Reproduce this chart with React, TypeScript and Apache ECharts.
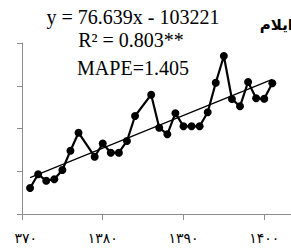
import React, { useEffect, useRef } from "react";
import * as echarts from "echarts";

const years = [1371, 1372, 1373, 1374, 1375, 1376, 1377, 1379, 1380, 1381, 1382, 1383, 1384, 1386, 1387, 1388, 1389, 1390, 1391, 1392, 1393, 1394, 1395, 1396, 1397, 1398, 1399, 1400, 1401];
const values = [1608, 1929, 1779, 1812, 2029, 2481, 2902, 2340, 2649, 2434, 2434, 2708, 3292, 3791, 3019, 2864, 3358, 3051, 3051, 3051, 3381, 4071, 4696, 3690, 3519, 4088, 3706, 3697, 4057];
const tickValues = [1370, 1380, 1390, 1400, 1410];
const tickLabels = ["۱۳۷۰", "۱۳۸۰", "۱۳۹۰", "۱۴۰۰", "۱۴۱۰"];
const slope = 76.639;
const intercept = -103221;
const equationLines = ["y = 76.639x - 103221", "R² = 0.803**", "MAPE=1.405"];
const title = "ایلام";

export default function App() {
  const ref = useRef<HTMLDivElement>(null);
  useEffect(() => {
    if (!ref.current) return;
    const chart = echarts.init(ref.current, null, { renderer: "svg" });
    const x0 = years[0];
    const x1 = years[years.length - 1];
    const trend = [
      [x0, slope * x0 + intercept],
      [x1, slope * x1 + intercept],
    ];
    const axisColor = "#8c8c8c";
    const textStyle = (t: string, size: number) => ({
      text: t,
      font: size + "px 'Liberation Serif'",
      fill: "#000",
      textAlign: "center",
      textVerticalAlign: "middle",
    });
    chart.setOption({
      animation: false,
      backgroundColor: "#ffffff",
      grid: { left: 22, top: 43, right: 0, bottom: 37, containLabel: false },
      xAxis: {
        type: "value",
        min: 1370,
        max: 1410,
        interval: 10,
        splitLine: { show: false },
        axisLine: { show: true, lineStyle: { color: axisColor, width: 1 } },
        axisTick: { show: true, length: 6, inside: false, lineStyle: { color: axisColor } },
        axisLabel: {
          show: true,
          margin: 17,
          fontSize: 14,
          color: "#000",
          fontFamily: "DejaVu Sans",
          formatter: (v: number) => {
            const i = tickValues.indexOf(Math.round(v));
            return i >= 0 ? tickLabels[i] : "";
          },
        },
      },
      yAxis: {
        type: "value",
        min: 1000,
        max: 5000,
        interval: 1000,
        splitLine: { show: false },
        axisLine: { show: true, lineStyle: { color: axisColor, width: 1 } },
        axisTick: { show: true, length: 5, lineStyle: { color: axisColor } },
        axisLabel: { show: false },
      },
      series: [
        {
          type: "line",
          data: trend,
          symbol: "none",
          lineStyle: { color: "#000", width: 1.2 },
          z: 3,
        },
        {
          type: "line",
          data: years.map((y, i) => [y, values[i]]),
          symbol: "circle",
          symbolSize: 8,
          itemStyle: { color: "#000" },
          lineStyle: { color: "#000", width: 2.2 },
          z: 4,
        },
      ],
      graphic: [
        { type: "text", x: 133, y: 17, style: textStyle(equationLines[0], 20), z: 10 },
        { type: "text", x: 131, y: 40, style: textStyle(equationLines[1], 20), z: 10 },
        { type: "text", x: 133, y: 68, style: textStyle(equationLines[2], 20), z: 10 },
        {
          type: "text",
          x: 293,
          y: 25,
          style: {
            text: title,
            font: "bold 15px 'DejaVu Sans'",
            fill: "#000",
            textAlign: "right",
            textVerticalAlign: "middle",
          },
          z: 10,
        },
        {
          type: "rect",
          shape: { x: 0, y: 226, width: 12.5, height: 25 },
          style: { fill: "#ffffff" },
          z: 20,
        },
      ],
    });
    return () => chart.dispose();
  }, []);
  return (
    <div style={{ position: "fixed", left: 0, top: 0, width: 291, height: 251, overflow: "hidden", background: "#fff" }}>
      <div ref={ref} style={{ width: 363.3, height: 251 }} />
    </div>
  );
}
